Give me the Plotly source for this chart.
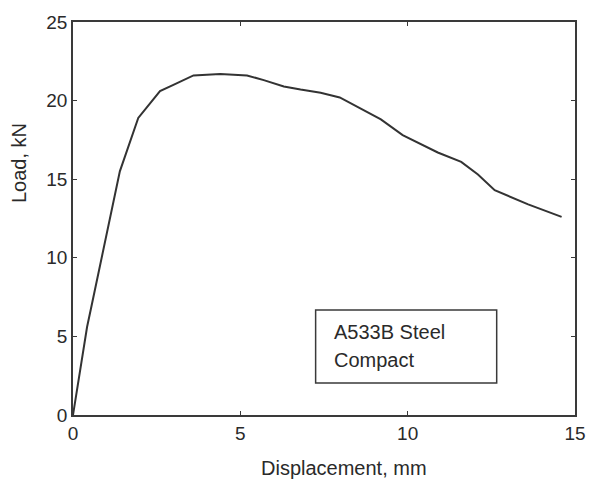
import plotly.graph_objects as go

displacement = [0, 0.22, 0.42, 0.55, 0.96, 1.4, 1.95, 2.6, 3.0, 3.6, 4.4, 5.2, 5.7, 6.3, 6.8, 7.4, 7.97, 8.6, 9.2, 9.85, 10.9, 11.6, 12.1, 12.6, 13.6, 14.6]
load = [0, 3.0, 5.6, 6.9, 11.1, 15.5, 18.9, 20.6, 21.0, 21.6, 21.7, 21.6, 21.3, 20.9, 20.7, 20.5, 20.2, 19.5, 18.8, 17.8, 16.7, 16.1, 15.3, 14.3, 13.4, 12.6]

x_ticks = [0, 5, 10, 15]
y_ticks = [0, 5, 10, 15, 20, 25]
legend_lines = ["A533B Steel", "Compact"]

font_family = "Liberation Sans, Arial, sans-serif"
ink = "#2a2a2a"

fig = go.Figure()
fig.add_trace(go.Scatter(x=displacement, y=load, mode="lines",
                         line=dict(color="#333333", width=2), showlegend=False))

axis_common = dict(showgrid=False, zeroline=False, showline=True, mirror="ticks",
                   linecolor="#3a3a3a", linewidth=1.5, ticks="inside", ticklen=4,
                   tickcolor="#3a3a3a", tickwidth=1.2, automargin=False,
                   tickfont=dict(family=font_family, size=19, color=ink))

fig.update_xaxes(range=[0, 15], tickvals=x_ticks, ticktext=[str(v) for v in x_ticks], **axis_common)
fig.update_yaxes(range=[0, 25], tickvals=y_ticks, ticktext=[str(v) for v in y_ticks], **axis_common)

fig.add_shape(type="rect", xref="x", yref="y", x0=7.25, x1=12.66, y0=2.04, y1=6.68,
              line=dict(color="#3a3a3a", width=1.5), fillcolor="white")
fig.add_annotation(xref="x", yref="y", x=7.73, y=5.28, xanchor="left", yanchor="middle",
                   text=legend_lines[0], showarrow=False,
                   font=dict(family=font_family, size=20, color=ink))
fig.add_annotation(xref="x", yref="y", x=7.73, y=3.5, xanchor="left", yanchor="middle",
                   text=legend_lines[1], showarrow=False,
                   font=dict(family=font_family, size=20, color=ink))

fig.add_annotation(xref="paper", yref="paper", x=0.54, y=-0.135, yanchor="middle",
                   text="Displacement, mm", showarrow=False,
                   font=dict(family=font_family, size=20, color=ink))
fig.add_annotation(xref="paper", yref="paper", x=-0.1076, y=0.641, textangle=-90,
                   xanchor="center", yanchor="middle",
                   text="Load, kN", showarrow=False,
                   font=dict(family=font_family, size=20, color=ink))

fig.update_layout(width=589, height=480, margin=dict(l=73, r=14, t=22, b=65),
                  plot_bgcolor="white", paper_bgcolor="white")

fig.write_html("out.html")
